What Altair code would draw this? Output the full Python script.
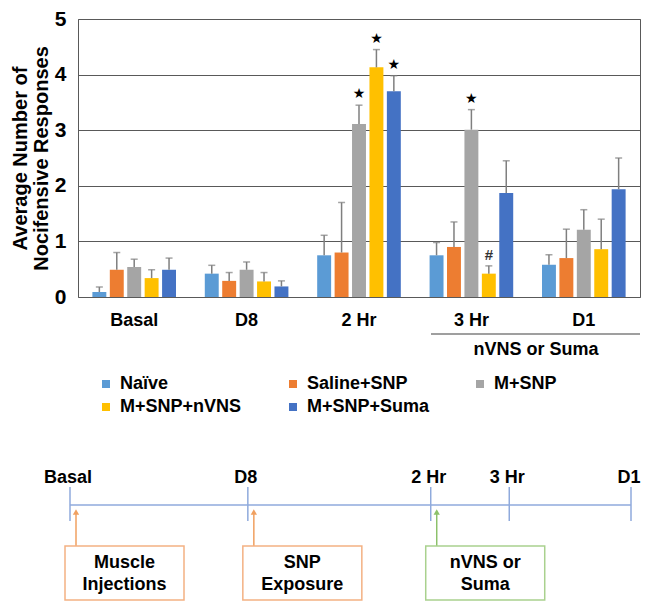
import altair as alt
import pandas as pd

# ---------------- data ----------------
groups = ["Basal", "D8", "2 Hr", "3 Hr", "D1"]
series = ["Naïve", "Saline+SNP", "M+SNP", "M+SNP+nVNS", "M+SNP+Suma"]
colors = ["#5B9BD5", "#ED7D31", "#A5A5A5", "#FFC000", "#4472C4"]

naive_mean = [0.09, 0.42, 0.75, 0.75, 0.58]
saline_mean = [0.49, 0.29, 0.80, 0.90, 0.70]
msnp_mean = [0.54, 0.49, 3.11, 3.01, 1.21]
nvns_mean = [0.34, 0.28, 4.13, 0.42, 0.86]
suma_mean = [0.49, 0.19, 3.70, 1.87, 1.94]

naive_sem = [0.09, 0.15, 0.36, 0.23, 0.18]
saline_sem = [0.31, 0.15, 0.90, 0.45, 0.52]
msnp_sem = [0.14, 0.14, 0.34, 0.36, 0.36]
nvns_sem = [0.15, 0.16, 0.32, 0.14, 0.54]
suma_sem = [0.21, 0.10, 0.28, 0.58, 0.56]

sig_group = ["2 Hr", "2 Hr", "2 Hr", "3 Hr", "3 Hr"]
sig_series = ["M+SNP", "M+SNP+nVNS", "M+SNP+Suma", "M+SNP", "M+SNP+nVNS"]
sig_mark = ["★", "★", "★", "★", "#"]

bracket_label = ["nVNS or Suma"]

tl_labels = ["Basal", "D8", "2 Hr", "3 Hr", "D1"]
tl_pos = [0, 31.7, 64.3, 78.3, 100]
event_text = ["Muscle\nInjections", "SNP\nExposure", "nVNS or\nSuma"]
event_pos = [0, 31.7, 64.3]
event_box_color = ["#F4B183", "#F4B183", "#A9D18E"]
event_arrow_color = ["#F0A060", "#F0A060", "#8CC16A"]

# ---------------- tables ----------------
means = [naive_mean, saline_mean, msnp_mean, nvns_mean, suma_mean]
sems = [naive_sem, saline_sem, msnp_sem, nvns_sem, suma_sem]
rows = []
for s, m, e in zip(series, means, sems):
    for g, v, ee in zip(groups, m, e):
        rows.append({"group": g, "series": s, "value": v, "top": v + ee})
df = pd.DataFrame(rows)

sig_df = pd.DataFrame({"group": sig_group, "series": sig_series, "mark": sig_mark})
sig_df = sig_df.merge(df[["group", "series", "top"]], on=["group", "series"])

tl_df = pd.DataFrame({"label": tl_labels, "pos": tl_pos})
line_df = pd.DataFrame({"start": [tl_pos[0]], "end": [tl_pos[-1]]})
ev_df = pd.DataFrame({"text": event_text, "pos": event_pos,
                      "box": event_box_color, "arrow": event_arrow_color})
br_df = pd.DataFrame({"t": bracket_label})

FONT = "Liberation Sans"

xenc = alt.X("group:N", sort=groups,
             scale=alt.Scale(domain=groups, paddingInner=0.225, paddingOuter=0.1125),
             axis=alt.Axis(title=None, labelAngle=0, labelFontSize=18, labelFont=FONT,
                           labelFontWeight="bold", labelColor="black", ticks=False,
                           domain=False, labelPadding=14, grid=False))
xoff = alt.XOffset("series:N", sort=series,
                   scale=alt.Scale(domain=series, paddingInner=0.2, paddingOuter=0.1))
yscale = alt.Scale(domain=[0, 5], nice=False)

bars = alt.Chart(df).mark_bar().encode(
    x=xenc, xOffset=xoff,
    y=alt.Y("value:Q", scale=yscale,
            axis=alt.Axis(values=[0, 1, 2, 3, 4, 5], format="d", labelFontSize=21,
                          labelFont=FONT, labelFontWeight="bold", labelColor="black",
                          ticks=False, domain=False, labelPadding=12,
                          gridColor="#595959", gridOpacity=1, gridWidth=1,
                          title=["Average Number of", "Nocifensive Responses"],
                          titleFontSize=20, titleFont=FONT, titleFontWeight="bold",
                          titleColor="black", titlePadding=3, titleLineHeight=21)),
    color=alt.Color("series:N", scale=alt.Scale(domain=series, range=colors),
                    legend=alt.Legend(title=None, orient="none", legendX=19, legendY=356,
                                      direction="horizontal", columns=3,
                                      columnPadding=41, rowPadding=5,
                                      symbolType="square", symbolSize=64,
                                      symbolStrokeWidth=0, labelFontSize=18,
                                      labelFont=FONT, labelFontWeight="bold",
                                      labelColor="black", labelOffset=5,
                                      gridAlign="all", padding=0)),
)

err = alt.Chart(df).mark_rule(color="#7F7F7F", strokeWidth=1.5).encode(
    x=xenc, xOffset=xoff, y=alt.Y("value:Q", scale=yscale), y2="top:Q")
caps = alt.Chart(df).mark_tick(color="#7F7F7F", thickness=1.5, size=7).encode(
    x=xenc, xOffset=xoff, y=alt.Y("top:Q", scale=yscale))
stars = alt.Chart(sig_df).transform_filter(alt.datum.mark == "★").mark_text(
    font="DejaVu Sans", fontSize=14, dy=-11, baseline="middle", color="black").encode(
    x=xenc, xOffset=xoff, y=alt.Y("top:Q", scale=yscale), text="mark:N")
hashes = alt.Chart(sig_df).transform_filter(alt.datum.mark == "#").mark_text(
    font=FONT, fontSize=15, fontWeight="bold", dy=-11, baseline="middle",
    color="#333333").encode(
    x=xenc, xOffset=xoff, y=alt.Y("top:Q", scale=yscale), text="mark:N")

underline = alt.Chart(br_df).mark_rule(color="#7F7F7F", strokeWidth=1.5).encode(
    x=alt.value(353), x2=alt.value(562), y=alt.value(315))
br_text = alt.Chart(br_df).mark_text(font=FONT, fontSize=18, fontWeight="bold",
                                     baseline="middle", color="black").encode(
    x=alt.value(458), y=alt.value(331), text="t:N")

top = alt.layer(bars, err, caps, stars, hashes, underline, br_text)

# ---------------- timeline ----------------
txs = alt.Scale(domain=[0, 100], range=[-8, 553])
tl_line = alt.Chart(line_df).mark_rule(color="#8FAADC", strokeWidth=1.5).encode(
    x=alt.X("start:Q", scale=txs, axis=None), x2="end:Q", y=alt.value(486))
tl_ticks = alt.Chart(tl_df).mark_rule(color="#8FAADC", strokeWidth=1.5).encode(
    x=alt.X("pos:Q", scale=txs, axis=None), y=alt.value(468), y2=alt.value(502))
tl_text = alt.Chart(tl_df).mark_text(font=FONT, fontSize=18, fontWeight="bold",
                                     baseline="middle", color="black", dx=-2).encode(
    x=alt.X("pos:Q", scale=txs, axis=None), y=alt.value(459), text="label:N")
arrows = alt.Chart(ev_df).mark_rule(strokeWidth=1.5, xOffset=6).encode(
    x=alt.X("pos:Q", scale=txs, axis=None), y=alt.value(527), y2=alt.value(493),
    color=alt.Color("arrow:N", scale=None))
heads = alt.Chart(ev_df).mark_point(shape="triangle-up", filled=True, size=40,
                                    xOffset=6, opacity=1).encode(
    x=alt.X("pos:Q", scale=txs, axis=None), y=alt.value(493),
    color=alt.Color("arrow:N", scale=None))
boxes = alt.Chart(ev_df).mark_rect(fill="white", strokeWidth=1.5,
                                   xOffset=-5, x2Offset=114).encode(
    x=alt.X("pos:Q", scale=txs, axis=None), x2="pos:Q",
    y=alt.value(527), y2=alt.value(581),
    stroke=alt.Stroke("box:N", scale=None))
box_text = alt.Chart(ev_df).mark_text(font=FONT, fontSize=18, fontWeight="bold",
                                      baseline="middle", lineBreak="\n",
                                      lineHeight=22, xOffset=54.5,
                                      color="black").encode(
    x=alt.X("pos:Q", scale=txs, axis=None), y=alt.value(544), text="text:N")

timeline = alt.layer(tl_line, tl_ticks, tl_text, arrows, heads, boxes, box_text)

chart = alt.layer(top, timeline).resolve_scale(x="independent").properties(
    width=562, height=278,
    autosize=alt.AutoSizeParams(type="none"),
    padding={"left": 70, "top": 11, "right": 1, "bottom": 304},
).configure(font=FONT).configure_view(stroke="#595959", strokeWidth=1)

chart.save("out.html", embed_options={"renderer": "svg", "actions": False})
